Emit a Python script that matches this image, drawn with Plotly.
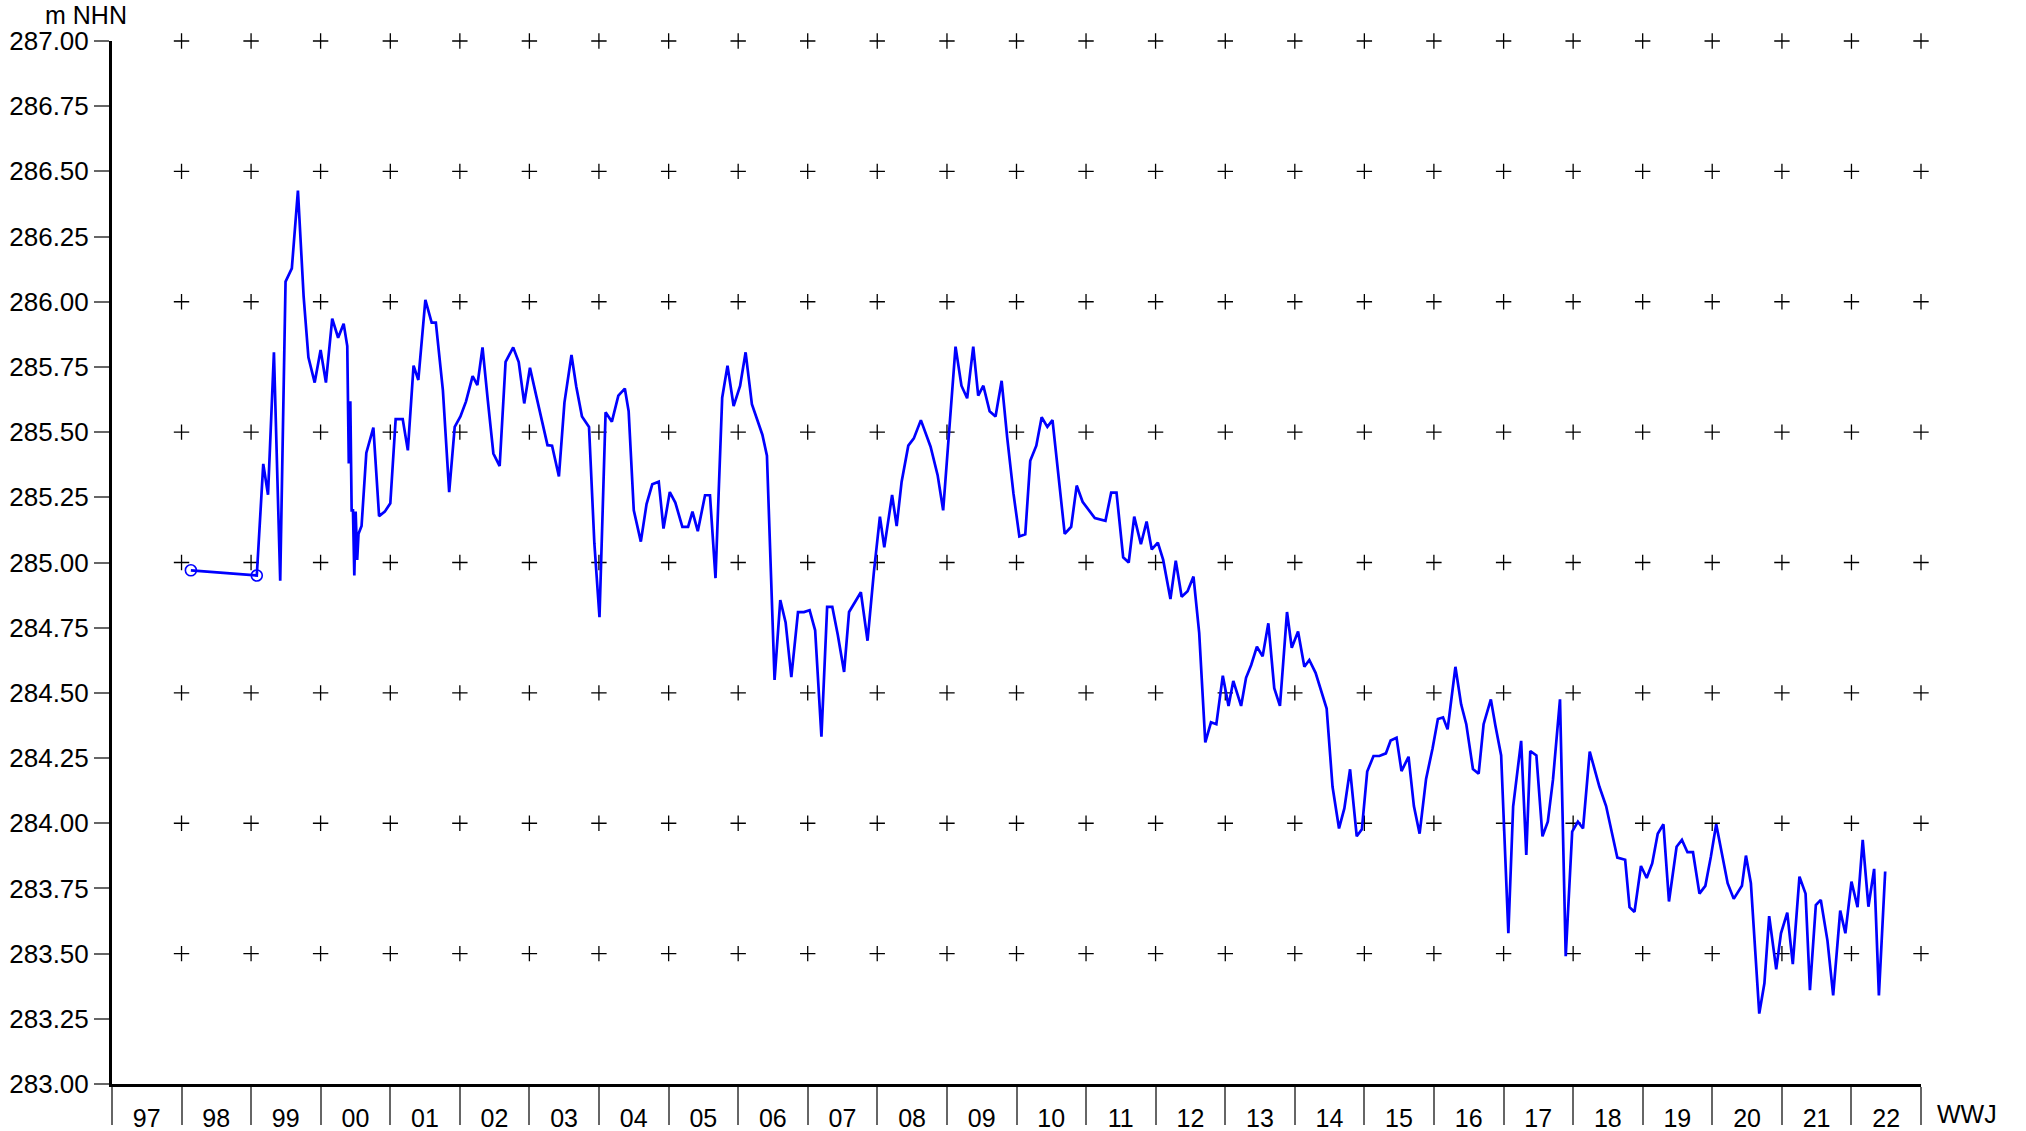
import plotly.graph_objects as go

# Measurement dates and groundwater levels (m NHN)
dates = [
    "1997-12-20", "1998-12-01",
    "1999-01-04", "1999-01-29", "1999-03-01", "1999-04-03", "1999-05-01", "1999-06-03", "1999-07-05",
    "1999-08-04", "1999-08-29", "1999-10-01", "1999-11-01", "1999-11-29", "2000-01-01", "2000-02-01",
    "2000-03-01", "2000-03-20", "2000-03-28", "2000-04-05", "2000-04-12", "2000-04-19", "2000-04-26",
    "2000-05-03", "2000-05-11", "2000-05-18", "2000-06-03", "2000-06-28", "2000-08-04", "2000-09-03",
    "2000-10-03", "2000-11-01", "2000-11-29", "2001-01-05", "2001-02-01", "2001-03-03", "2001-03-28",
    "2001-05-04", "2001-06-06", "2001-06-28", "2001-08-04", "2001-09-06", "2001-10-05", "2001-11-04",
    "2001-12-03", "2002-01-07", "2002-02-01", "2002-02-28", "2002-03-28", "2002-04-26", "2002-05-29",
    "2002-06-29", "2002-08-08", "2002-09-06", "2002-10-05", "2002-11-04", "2002-12-08", "2003-02-04",
    "2003-02-28", "2003-04-05", "2003-05-04", "2003-06-10", "2003-07-05", "2003-08-04", "2003-09-10",
    "2003-10-08", "2003-11-04", "2003-12-06", "2004-01-08", "2004-02-11", "2004-03-16", "2004-04-05",
    "2004-05-02", "2004-06-08", "2004-07-08", "2004-08-07", "2004-09-10", "2004-10-05", "2004-11-07",
    "2004-12-06", "2005-01-12", "2005-02-11", "2005-03-06", "2005-04-03", "2005-05-11", "2005-06-06",
    "2005-07-05", "2005-08-09", "2005-09-06", "2005-10-08", "2005-11-11", "2005-12-10", "2006-01-12",
    "2006-03-08", "2006-04-01", "2006-05-11", "2006-06-10", "2006-07-08", "2006-08-07", "2006-09-11",
    "2006-10-12", "2006-11-11", "2006-12-10", "2007-01-12", "2007-02-11", "2007-03-10", "2007-04-08",
    "2007-05-11", "2007-06-06", "2007-07-08", "2007-08-07", "2007-09-11", "2007-10-14", "2007-11-15",
    "2007-12-08", "2008-01-18", "2008-02-11", "2008-03-08", "2008-04-12", "2008-05-11", "2008-06-17",
    "2008-08-07", "2008-09-13", "2008-10-12", "2008-12-16", "2009-01-16", "2009-02-15", "2009-03-19",
    "2009-04-14", "2009-05-11", "2009-06-13", "2009-07-14", "2009-08-15", "2009-09-13", "2009-10-16",
    "2009-11-16", "2009-12-17", "2010-01-12", "2010-02-13", "2010-03-13", "2010-04-12", "2010-05-09",
    "2010-07-12", "2010-08-15", "2010-09-13", "2010-10-14", "2010-12-17", "2011-02-11", "2011-03-13",
    "2011-04-10", "2011-05-15", "2011-06-13", "2011-07-12", "2011-08-16", "2011-09-15", "2011-10-12",
    "2011-11-13", "2011-12-11", "2012-01-18", "2012-02-15", "2012-03-17", "2012-04-17", "2012-05-18",
    "2012-06-17", "2012-07-19", "2012-08-18", "2012-09-15", "2012-10-19", "2012-11-18", "2012-12-13",
    "2013-01-23", "2013-02-18", "2013-03-17", "2013-04-16", "2013-05-16", "2013-06-15", "2013-07-16",
    "2013-08-15", "2013-09-21", "2013-10-16", "2013-11-18", "2013-12-21", "2014-01-16", "2014-02-18",
    "2014-04-17", "2014-05-18", "2014-06-21", "2014-07-19", "2014-08-18", "2014-09-22", "2014-10-19",
    "2014-11-16", "2014-12-19", "2015-01-19", "2015-02-22", "2015-03-19", "2015-04-19", "2015-05-15",
    "2015-06-21", "2015-07-19", "2015-08-18", "2015-09-21", "2015-10-25", "2015-11-22", "2015-12-19",
    "2016-01-12", "2016-02-22", "2016-03-23", "2016-04-19", "2016-05-24", "2016-06-23", "2016-07-19",
    "2016-08-26", "2016-09-19", "2016-10-19", "2016-11-26", "2016-12-21", "2017-02-01", "2017-02-28",
    "2017-03-21", "2017-04-22", "2017-05-24", "2017-06-21", "2017-07-18", "2017-08-24", "2017-09-23",
    "2017-10-27", "2017-11-26", "2017-12-23", "2018-01-27", "2018-03-19", "2018-04-23", "2018-06-21",
    "2018-08-01", "2018-08-24", "2018-09-19", "2018-10-23", "2018-11-22", "2018-12-21", "2019-01-19",
    "2019-02-18", "2019-03-19", "2019-04-28", "2019-05-26", "2019-06-24", "2019-07-23", "2019-08-26",
    "2019-09-26", "2019-10-25", "2019-11-22", "2019-12-21", "2020-01-21", "2020-02-22", "2020-04-05",
    "2020-04-26", "2020-05-22", "2020-07-05", "2020-08-01", "2020-08-26", "2020-10-02", "2020-10-27",
    "2020-11-29", "2020-12-28", "2021-02-01", "2021-03-05", "2021-03-28", "2021-04-28", "2021-05-24",
    "2021-06-28", "2021-07-28", "2021-09-03", "2021-09-30", "2021-11-01", "2021-12-03", "2021-12-30",
    "2022-01-29", "2022-02-28", "2022-03-25", "2022-04-27",
]
levels = [
    284.97, 284.95,
    285.378, 285.26, 285.806, 284.93, 286.077, 286.128, 286.426,
    286.02, 285.787, 285.69, 285.815, 285.69, 285.935, 285.862,
    285.916, 285.83, 285.38, 285.618, 285.20, 285.20, 284.95,
    285.195, 285.01, 285.11, 285.14, 285.42, 285.517, 285.178,
    285.195, 285.227, 285.55, 285.55, 285.43, 285.755, 285.70,
    286.007, 285.92, 285.92, 285.66, 285.27, 285.52, 285.56,
    285.617, 285.715, 285.68, 285.825, 285.62, 285.418, 285.37,
    285.769, 285.825, 285.769, 285.61, 285.747, 285.636, 285.45,
    285.448, 285.33, 285.613, 285.796, 285.675, 285.56, 285.52,
    285.074, 284.79, 285.576, 285.54, 285.64, 285.667, 285.58,
    285.20, 285.08, 285.224, 285.30, 285.31, 285.13, 285.27,
    285.23, 285.137, 285.137, 285.195, 285.12, 285.258, 285.258,
    284.94, 285.632, 285.755, 285.60, 285.677, 285.806, 285.607,
    285.49, 285.41, 284.55, 284.856, 284.77, 284.56, 284.81,
    284.81, 284.817, 284.74, 284.332, 284.83, 284.83, 284.722,
    284.58, 284.81, 284.85, 284.886, 284.70, 284.96, 285.176,
    285.058, 285.259, 285.14, 285.31, 285.448, 285.476, 285.546,
    285.444, 285.335, 285.20, 285.828, 285.678, 285.63, 285.828,
    285.64, 285.678, 285.58, 285.56, 285.697, 285.48, 285.265,
    285.10, 285.108, 285.39, 285.448, 285.557, 285.52, 285.546,
    285.11, 285.137, 285.295, 285.233, 285.17, 285.16, 285.268,
    285.268, 285.02, 285.0, 285.176, 285.07, 285.157, 285.05,
    285.076, 285.01, 284.86, 285.007, 284.869, 284.89, 284.946,
    284.73, 284.31, 284.387, 284.38, 284.566, 284.45, 284.546,
    284.45, 284.558, 284.607, 284.677, 284.64, 284.767, 284.518,
    284.45, 284.81, 284.673, 284.735, 284.6, 284.626, 284.577,
    284.44, 284.14, 283.98, 284.057, 284.207, 283.95, 283.977,
    284.198, 284.258, 284.258, 284.268, 284.317, 284.328, 284.20,
    284.255, 284.066, 283.96, 284.17, 284.287, 284.40, 284.406,
    284.36, 284.60, 284.456, 284.38, 284.208, 284.19, 284.38,
    284.475, 284.374, 284.26, 283.578, 284.064, 284.316, 283.878,
    284.277, 284.26, 283.95, 284.006, 284.166, 284.475, 283.49,
    283.968, 284.006, 283.98, 284.275, 284.14, 284.066, 283.868,
    283.86, 283.678, 283.66, 283.836, 283.79, 283.846, 283.96,
    283.996, 283.70, 283.91, 283.936, 283.889, 283.889, 283.73,
    283.76, 283.872, 283.996, 283.885, 283.77, 283.71, 283.76,
    283.876, 283.77, 283.27, 283.386, 283.644, 283.44, 283.578,
    283.657, 283.46, 283.795, 283.73, 283.36, 283.686, 283.706,
    283.55, 283.34, 283.665, 283.578, 283.776, 283.678, 283.936,
    283.68, 283.825, 283.34, 283.815,
]

# Water years (WWJ, Nov 1 - Oct 31): labels and start years
wwj_labels = ["97", "98", "99", "00", "01", "02", "03", "04", "05", "06", "07", "08", "09",
              "10", "11", "12", "13", "14", "15", "16", "17", "18", "19", "20", "21", "22"]
wwj_first_year = 1996
grid_levels = [283.5, 284.0, 284.5, 285.0, 285.5, 286.0, 286.5, 287.0]

n_years = len(wwj_labels)
boundaries = [f"{wwj_first_year + i}-11-01" for i in range(n_years + 1)]
label_pos = [f"{wwj_first_year + i + 1}-05-02" for i in range(n_years)]

FONT = "Liberation Sans, Arial, sans-serif"

fig = go.Figure()

# "+" grid markers at water-year boundaries and half-metre levels
gx, gy = [], []
for lv in grid_levels:
    for b in boundaries[1:]:
        gx.append(b)
        gy.append(lv)
fig.add_trace(go.Scatter(
    x=gx, y=gy, mode="markers", cliponaxis=False, hoverinfo="skip",
    marker=dict(symbol="cross-thin", size=11, line=dict(color="#000000", width=1.3)),
    showlegend=False,
))

# groundwater level line
fig.add_trace(go.Scatter(
    x=dates, y=levels, mode="lines",
    line=dict(color="#0000FF", width=2.7),
    showlegend=False,
))

# isolated early measurements shown with open circles
fig.add_trace(go.Scatter(
    x=dates[:2], y=levels[:2], mode="markers",
    marker=dict(symbol="circle-open", size=11, color="#0000FF", line=dict(width=1.6)),
    showlegend=False,
))

fig.update_layout(
    width=2026, height=1131,
    margin=dict(l=112, r=105, t=41, b=47),
    paper_bgcolor="white", plot_bgcolor="white",
    font=dict(family=FONT, size=26, color="#000000"),
    xaxis=dict(
        type="date", automargin=False,
        range=[boundaries[0], boundaries[-1]],
        tickmode="array", tickvals=label_pos, ticktext=wwj_labels,
        ticks="", showgrid=False, zeroline=False,
        showline=True, linecolor="#000000", linewidth=3,
        tickfont=dict(size=25, family=FONT),
        ticklabelstandoff=10,
        minor=dict(tickmode="array", tickvals=boundaries, ticks="outside",
                   ticklen=38, tickwidth=1.5, tickcolor="#666666", showgrid=False),
    ),
    yaxis=dict(
        range=[283, 287], tickmode="linear", tick0=283, dtick=0.25, automargin=False,
        tickformat=".2f", ticks="outside", ticklen=15, tickwidth=1.5,
        tickcolor="#666666", showgrid=False, zeroline=False,
        showline=True, linecolor="#000000", linewidth=3,
        tickfont=dict(size=26, family=FONT),
    ),
    annotations=[
        dict(text="m NHN", xref="paper", yref="paper", x=0, y=1,
             xanchor="center", yanchor="middle", xshift=-26, yshift=26,
             showarrow=False, font=dict(size=25, family=FONT)),
        dict(text="WWJ", xref="paper", yref="paper", x=1, y=0,
             xanchor="left", yanchor="middle", xshift=14, yshift=-30,
             showarrow=False, font=dict(size=25, family=FONT)),
    ],
)

# remove the default page margin so the figure fills the window exactly
fig.write_html("out.html", config={"displayModeBar": False},
               post_script="document.body.style.margin='0';")
